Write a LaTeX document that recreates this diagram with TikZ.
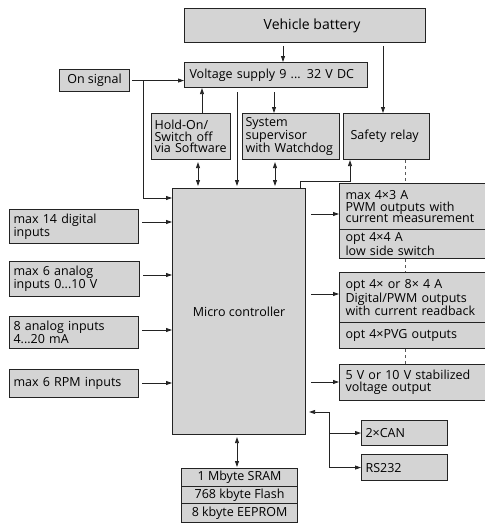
\documentclass[tikz,border=0pt]{standalone}
\usepackage{fontspec}
\setmainfont{Open Sans}
\usetikzlibrary{arrows.meta}
\definecolor{boxfill}{RGB}{212,212,212}
\definecolor{boxline}{RGB}{35,35,35}

\begin{document}
\begin{tikzpicture}[x=1pt,y=-1pt,
  box/.style={draw=boxline, fill=boxfill, line width=1.1pt, anchor=north west,
    inner sep=0pt, font=\fontsize{12.5}{11.7}\selectfont},
  lbox/.style={box, align=left, inner xsep=#1},
  arr/.style={draw=boxline, line width=0.8pt, -{Triangle[length=6pt,width=4pt]}},
  darr/.style={draw=boxline, line width=0.8pt, {Triangle[length=6pt,width=4pt]}-{Triangle[length=6pt,width=4pt]}},
  dotline/.style={draw=black!65, line width=0.8pt, dash pattern=on 3pt off 3pt}]

\useasboundingbox (0,0) rectangle (485,523);
\clip (0,0) rectangle (485,523);

% power section
\node[box, minimum width=241, minimum height=34, font=\fontsize{14}{16}\selectfont] (bat) at (184,8) {\hspace*{14pt}Vehicle battery};
\node[lbox=5, minimum width=183, minimum height=25, text width=173] (vs) at (184,62) {Voltage supply 9 ... 32 V DC};
\node[box, minimum width=70, minimum height=22] (on) at (59,69) {On signal};
\node[lbox=3, minimum width=79, minimum height=46, text width=73] (hold) at (151,113) {Hold-On/\\Switch off\\via Software};
\node[lbox=3, minimum width=97, minimum height=46, text width=91] (sup) at (242,113) {System\\supervisor\\with Watchdog};
\node[lbox=7, minimum width=86, minimum height=46, text width=72] (rel) at (343,113) {Safety relay};

% controller
\node[box, minimum width=133, minimum height=246] (mc) at (172,188) {Micro controller\\[14pt]};

% inputs
\node[lbox=4, minimum width=129, minimum height=34, text width=121] (in1) at (9,209) {max 14 digital\\inputs};
\node[lbox=4, minimum width=130, minimum height=35, text width=122] (in2) at (9,261) {max 6 analog\\inputs 0...10 V};
\node[lbox=4, minimum width=129, minimum height=32, text width=121] (in3) at (9,316) {8 analog inputs\\4...20 mA};
\node[lbox=4, minimum width=129, minimum height=28, text width=121] (in4) at (9,369) {max 6 RPM inputs};

% outputs
\node[lbox=6, minimum width=161, minimum height=46, text width=149] (o1a) at (339,183) {max 4×3 A\\PWM outputs with\\current measurement};
\node[lbox=6, minimum width=161, minimum height=29, text width=149] (o1b) at (339,229) {opt 4×4 A\\low side switch};
\node[lbox=6, minimum width=161, minimum height=50, text width=149] (o2a) at (339,272) {opt 4× or 8× 4 A\\Digital/PWM outputs\\with current readback};
\node[lbox=6, minimum width=161, minimum height=26, text width=149] (o2b) at (339,322) {opt 4×PVG outputs};
\node[lbox=6, minimum width=161, minimum height=36, text width=149] (o3) at (339,364) {5 V or 10 V stabilized\\voltage output};

% communication
\node[lbox=4, minimum width=86, minimum height=25, text width=78] (can) at (361,420) {2×CAN};
\node[lbox=4, minimum width=86, minimum height=26, text width=78] (rs) at (361,454) {RS232};

% memory
\node[box, minimum width=116, minimum height=18] (mem1) at (181,468) {1 Mbyte SRAM};
\node[box, minimum width=116, minimum height=17] (mem2) at (181,486) {768 kbyte Flash};
\node[box, minimum width=116, minimum height=19] (mem3) at (181,503) {8 kbyte EEPROM};

% supply connections
\draw[arr, shorten <=3pt] (283,0 |- bat.south) -- (283,0 |- vs.north);
\draw[arr, shorten <=3pt] (383,0 |- bat.south) -- (383,0 |- rel.north);
\draw[arr, shorten <=2pt] (on.east) -- (vs.west |- on.east);
\draw[arr] (143,0 |- on.east) |- (mc.west |- 0,198);
\draw[arr] (202,0 |- hold.north) -- (202,0 |- vs.south);
\draw[darr, shorten <=2pt, shorten >=2pt] (198,0 |- hold.south) -- (198,0 |- mc.north);
\draw[arr, shorten <=4pt, shorten >=2pt] (237,0 |- vs.south) -- (237,0 |- mc.north);
\draw[arr, shorten <=4pt] (274,0 |- vs.south) -- (274,0 |- sup.north);
\draw[darr, shorten <=2pt, shorten >=2pt] (275,0 |- sup.south) -- (275,0 |- mc.north);
\draw[arr] (300,0 |- mc.north) |- (350,181) -- (350,0 |- rel.south);

% relay feed of the output stages
\draw[dotline] (405,0 |- rel.south) -- (405,0 |- o1a.north);
\draw[dotline] (405,0 |- o1b.south) -- (405,0 |- o2a.north);
\draw[dotline] (405,0 |- o2b.south) -- (405,0 |- o3.north);

% inputs to controller
\draw[arr, shorten <=3pt] (in1.east |- 0,222) -- (mc.west |- 0,222);
\draw[arr, shorten <=3pt] (in2.east |- 0,275) -- (mc.west |- 0,275);
\draw[arr, shorten <=3pt] (in3.east |- 0,330) -- (mc.west |- 0,330);
\draw[arr, shorten <=3pt] (in4.east |- 0,383) -- (mc.west |- 0,383);

% controller to outputs
\draw[arr, shorten <=5pt] (mc.east |- 0,214) -- (o1a.west |- 0,214);
\draw[arr, shorten <=5pt] (mc.east |- 0,294) -- (o2a.west |- 0,294);
\draw[arr, shorten <=5pt] (mc.east |- 0,382) -- (o3.west |- 0,382);

% communication bus
\coordinate (bus) at (329,412);
\draw[arr, shorten >=3pt] (bus) -- (mc.east |- bus);
\draw[arr] (bus) |- (rs.west);
\draw[arr] (bus |- can.west) -- (can.west);

% memory
\draw[darr, shorten <=2pt, shorten >=1pt] (237,0 |- mc.south) -- (237,0 |- mem1.north);
\end{tikzpicture}
\end{document}
